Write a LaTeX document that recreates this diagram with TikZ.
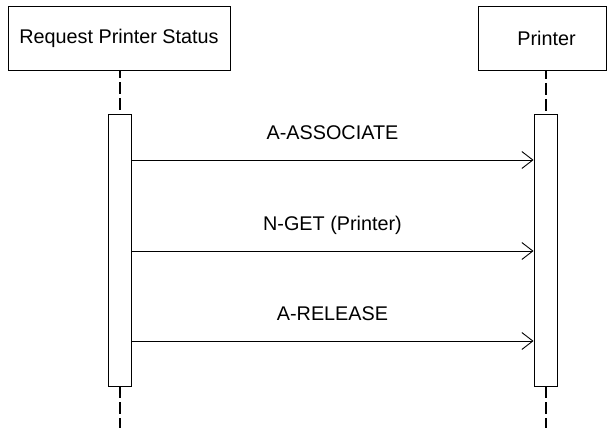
\documentclass[tikz,border=0pt]{standalone}
\usepackage{fontspec}
\setmainfont{Liberation Sans}
\usetikzlibrary{arrows.meta}
\begin{document}
\begin{tikzpicture}[x=1pt,y=-1pt,
  objbox/.style={draw=black,line width=0.9pt,rectangle,inner sep=0pt,minimum height=64pt,
    font=\fontsize{19.8}{24}\selectfont},
  actbox/.style={draw=black,fill=white,line width=0.9pt,rectangle,inner sep=0pt,minimum width=23pt,minimum height=272pt},
  lifeline/.style={line width=2pt,dash pattern=on 12pt off 4pt,dash phase=4pt},
  msg/.style={line width=0.9pt,-{Straight Barb[length=11pt,width=17pt,line width=0.9pt]}},
  msglabel/.style={font=\fontsize{19.8}{24}\selectfont,anchor=base,inner sep=0pt}]
\useasboundingbox (0,0) rectangle (607,428);
\node[objbox,minimum width=222pt] (lbox) at (119,38) {Request Printer Status};
\node[objbox,minimum width=128pt] (rbox) at (542.5,38.5) {\hspace*{8pt}Printer};
\node[actbox] (lact) at (119.5,250) {};
\node[actbox] (ract) at (545.5,250) {};
\coordinate (lend) at (119.5,428);
\coordinate (rend) at (545.5,428);
\draw[lifeline] (lbox.south -| lact.north) -- (lact.north);
\draw[lifeline] (rbox.south -| ract.north) -- (ract.north);
\draw[lifeline,dash phase=0pt] (lact.south) -- (lend);
\draw[lifeline,dash phase=0pt] (ract.south) -- (rend);
\coordinate (m1) at (0,160);
\coordinate (m2) at (0,251);
\coordinate (m3) at (0,341);
\draw[msg] (lact.east |- m1) -- node[msglabel,yshift=21pt] (t1) {A-ASSOCIATE} (ract.west |- m1);
\draw[msg] (lact.east |- m2) -- node[msglabel,yshift=21pt] (t2) {N-GET (Printer)} (ract.west |- m2);
\draw[msg] (lact.east |- m3) -- node[msglabel,yshift=21pt] (t3) {A-RELEASE} (ract.west |- m3);
\end{tikzpicture}
\end{document}
